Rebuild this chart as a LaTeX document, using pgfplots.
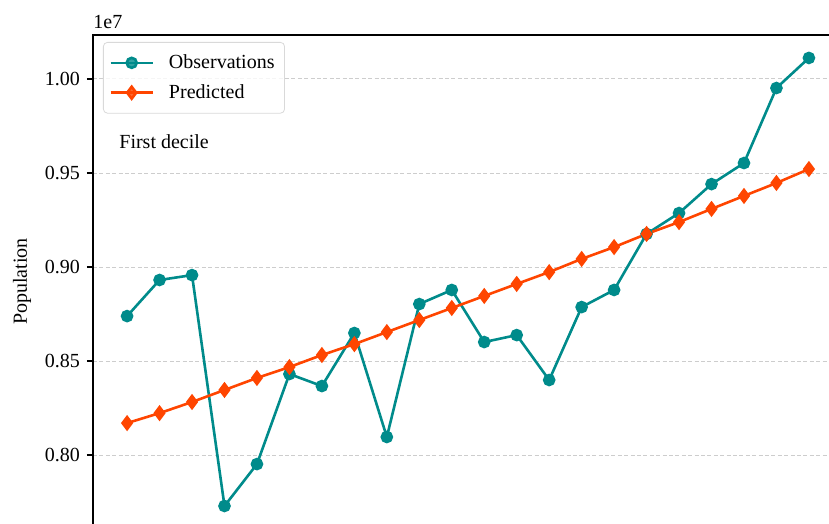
\documentclass[border=0pt]{standalone}
\usepackage{fontspec}
\setmainfont{Liberation Serif}
\usepackage{pgfplots}
\pgfplotsset{compat=1.18}
\definecolor{obs}{RGB}{0,139,139}
\definecolor{pred}{RGB}{255,69,0}
\definecolor{gridc}{RGB}{205,205,205}
\begin{document}
\fontsize{10}{12}\selectfont
\begin{tikzpicture}
\begin{axis}[
  name=ax, at={(0,0)}, anchor=north west,
  scale only axis, width=375pt, height=246.5pt,
  xmin=-1.05, xmax=22.05,
  ymin=7612000, ymax=10234000,
  xtick=\empty,
  ytick={8000000,8500000,9000000,9500000,10000000},
  scaled y ticks=base 10:-7,
  ytick scale label code/.code={1e7},
  every y tick scale label/.style={at={(rel axis cs:0,1)}, anchor=south west, inner sep=0pt, yshift=3pt},
  /pgf/number format/fixed, /pgf/number format/fixed zerofill, /pgf/number format/precision=2,
  /pgf/number format/assume math mode=true,
  ytick pos=left, tick align=outside, major tick length=3pt,
  ytick style={black, line width=0.8pt},
  axis line style={line width=0.8pt},
  ymajorgrids, major grid style={gridc, line width=0.5pt, dash pattern=on 2pt off 1.2pt},
  ylabel={Population},
  tick label style={font=\fontsize{10}{12}\selectfont},
  label style={font=\fontsize{10}{12}\selectfont},
  legend cell align=left,
  legend style={at={(0,1)}, anchor=north west, xshift=5pt, yshift=-3.5pt,
    draw=black!15, rounded corners=2pt, fill=white, fill opacity=0.8, text opacity=1,
    font=\fontsize{10}{12}\selectfont, inner xsep=3pt, inner ysep=4pt, row sep=2.5pt,
    /tikz/every odd column/.append style={column sep=5.5pt}},
  legend image code/.code={\draw[mark repeat=2,mark phase=2,#1] plot coordinates {(0pt,0pt)(10.5pt,0pt)(21pt,0pt)};},
]
\addplot[obs, line width=1.3pt, mark=*, mark size=2.5pt, mark options={solid, fill=obs, draw=obs}] coordinates {
(0,8739000) (1,8931000) (2,8957000) (3,7729000) (4,7952000) (5,8431000)
(6,8367000) (7,8649000) (8,8096000) (9,8803000) (10,8878000) (11,8601000)
(12,8638000) (13,8399000) (14,8787000) (15,8878000) (16,9176000) (17,9287000)
(18,9441000) (19,9553000) (20,9952000) (21,10112000)
};
\addlegendentry{Observations}
\addplot[pred, line width=1.3pt, mark=diamond*, mark size=3pt, mark options={solid, fill=pred, draw=pred}] coordinates {
(0,8170000) (1,8223000) (2,8282000) (3,8346000) (4,8410000) (5,8468000)
(6,8532000) (7,8590000) (8,8654000) (9,8718000) (10,8782000) (11,8846000)
(12,8910000) (13,8973000) (14,9043000) (15,9106000) (16,9176000) (17,9239000)
(18,9309000) (19,9378000) (20,9447000) (21,9521000)
};
\addlegendentry{Predicted}
\node[anchor=west, inner sep=0pt, font=\fontsize{10}{12}\selectfont] at ([xshift=13pt, yshift=-53.5pt]rel axis cs:0,1) {First decile};
\end{axis}
\pgfresetboundingbox
\path[use as bounding box] (-46.5pt,17.5pt) rectangle (368pt,-244.5pt);
\end{tikzpicture}
\end{document}
